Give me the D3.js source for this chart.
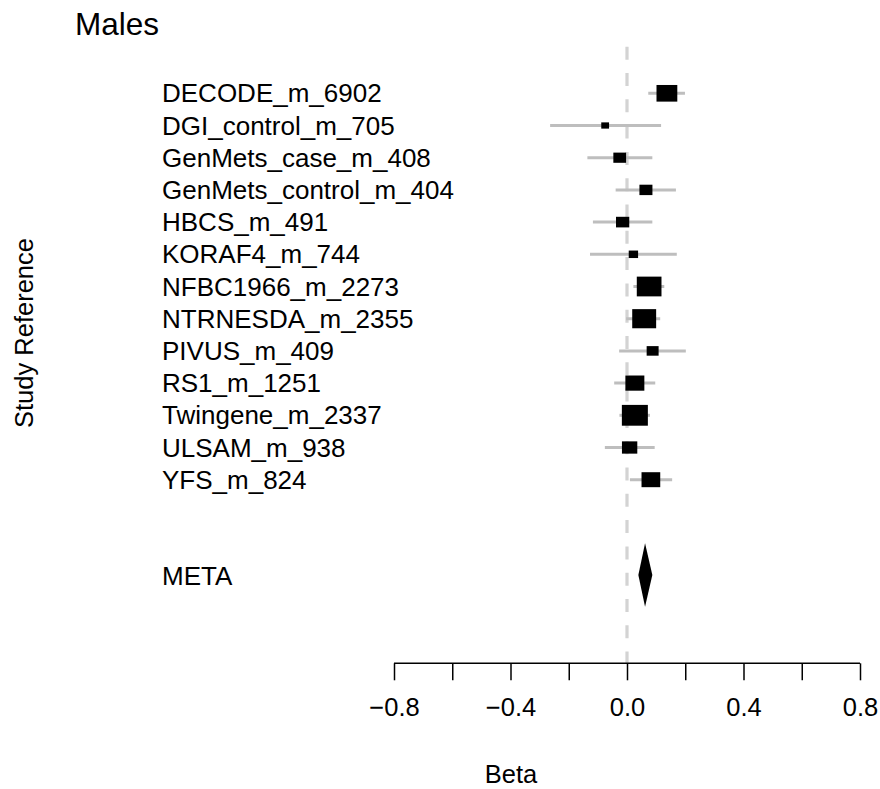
<!DOCTYPE html>
<html>
<head>
<meta charset="utf-8">
<script src="https://cdn.jsdelivr.net/npm/d3@7"></script>
<style>
  html, body { margin: 0; padding: 0; background: #fff; }
  svg { display: block; font-family: "Liberation Sans", Arial, Helvetica, sans-serif; }
</style>
</head>
<body>
<svg id="chart" width="880" height="789"></svg>
<script>
// ---- data ----
const studies = ["DECODE_m_6902", "DGI_control_m_705", "GenMets_case_m_408", "GenMets_control_m_404",
  "HBCS_m_491", "KORAF4_m_744", "NFBC1966_m_2273", "NTRNESDA_m_2355", "PIVUS_m_409",
  "RS1_m_1251", "Twingene_m_2337", "ULSAM_m_938", "YFS_m_824"];
const beta  = [0.137, -0.075, -0.025, 0.065, -0.015, 0.022, 0.076, 0.059, 0.088, 0.027, 0.027, 0.009, 0.082];
const lower = [0.073, -0.264, -0.136, -0.039, -0.117, -0.127, 0.022, -0.003, -0.027, -0.044, -0.026, -0.076, 0.010];
const upper = [0.199, 0.117, 0.087, 0.168, 0.087, 0.171, 0.128, 0.114, 0.202, 0.097, 0.079, 0.095, 0.155];
const weight = [0.80, 0.30, 0.49, 0.50, 0.51, 0.36, 0.95, 0.92, 0.46, 0.73, 1.00, 0.59, 0.72];
const metaLabel = "META";
const metaBeta = 0.062, metaLower = 0.039, metaUpper = 0.087;
const xTicks = [-0.8, -0.6, -0.4, -0.2, 0.0, 0.2, 0.4, 0.6, 0.8];
const xTickLabels = ["\u22120.8", "", "\u22120.4", "", "0.0", "", "0.4", "", "0.8"];
const title = "Males", xTitle = "Beta", yTitle = "Study Reference";

// ---- layout ----
const svg = d3.select("#chart");
const x = d3.scaleLinear().domain([-0.8, 0.8]).range([394, 860]);
const slot = d3.scaleLinear().domain([0, 1]).range([93.3, 125.5]);
const boxW = d3.scaleLinear().domain([0, 1]).range([0, 26]);
const axisY = 663.3;
const fs = 25.5;
const fsLab = 26;

// title
svg.append("text").attr("x", 75).attr("y", 35).attr("font-size", 31.5).text(title);

// zero line (dashed)
svg.append("line")
  .attr("x1", x(0)).attr("x2", x(0))
  .attr("y1", 46.7).attr("y2", axisY)
  .attr("stroke", "#d3d3d3").attr("stroke-width", 3.2)
  .attr("stroke-dasharray", "13 13.3");

// study labels
svg.append("g").selectAll("text").data(studies).join("text")
  .attr("x", 162).attr("y", (d, i) => slot(i) + 9)
  .attr("font-size", fsLab).text(d => d);

// CI lines
svg.append("g").selectAll("line").data(studies).join("line")
  .attr("x1", (d, i) => x(lower[i])).attr("x2", (d, i) => x(upper[i]))
  .attr("y1", (d, i) => slot(i)).attr("y2", (d, i) => slot(i))
  .attr("stroke", "#bebebe").attr("stroke-width", 3);

// boxes
svg.append("g").selectAll("rect").data(studies).join("rect")
  .attr("x", (d, i) => x(beta[i]) - boxW(weight[i]) / 2)
  .attr("y", (d, i) => slot(i) - boxW(weight[i]) * 0.8 / 2)
  .attr("width", (d, i) => boxW(weight[i]))
  .attr("height", (d, i) => boxW(weight[i]) * 0.8)
  .attr("fill", "#000");

// meta
const my = slot(15) - 1.3;
svg.append("text").attr("x", 162).attr("y", my + 9.5).attr("font-size", fsLab).text(metaLabel);
svg.append("path")
  .attr("d", `M${x(metaLower)},${my} L${x(metaBeta)},${my - 31.7} L${x(metaUpper)},${my} L${x(metaBeta)},${my + 31.7} Z`)
  .attr("fill", "#000");

// x axis
const axisG = svg.append("g").attr("transform", `translate(0,${axisY})`)
  .call(d3.axisBottom(x).tickValues(xTicks).tickFormat((d, i) => xTickLabels[i]).tickSize(17).tickPadding(18));
axisG.select(".domain").attr("stroke", "#000").attr("stroke-width", 1.5).attr("d", `M${x(-0.8)},0H${x(0.8)}`);
axisG.selectAll(".tick line").attr("stroke", "#000").attr("stroke-width", 1.5);
axisG.selectAll(".tick text").attr("font-size", fs).attr("fill", "#000")
  .attr("font-family", "\"Liberation Sans\", Arial, sans-serif");

// axis titles
svg.append("text").attr("x", x(0) - 116).attr("y", 783).attr("font-size", fs)
  .attr("text-anchor", "middle").text(xTitle);
svg.append("text").attr("transform", "translate(33,333) rotate(-90)")
  .attr("font-size", fs).attr("text-anchor", "middle").text(yTitle);
</script>
</body>
</html>
